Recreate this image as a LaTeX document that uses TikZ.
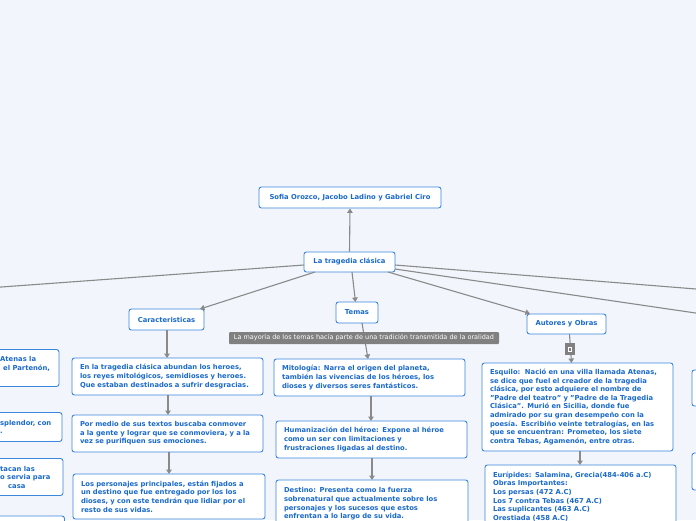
\documentclass[tikz,border=0pt]{standalone}
\usepackage{fontspec}
\setmainfont{DejaVu Sans}
\usetikzlibrary{arrows.meta}
\definecolor{bg}{HTML}{F2F5FC}
\definecolor{boxblue}{HTML}{3A87DD}
\definecolor{txtblue}{HTML}{1A6ACB}
\definecolor{linegray}{HTML}{8A8A8A}
\definecolor{notegray}{HTML}{808080}
\tikzset{
  box/.style={draw=boxblue, fill=white, rounded corners=2.5pt, line width=0.9pt,
    text=txtblue, font=\fontsize{6.8}{8.6}\selectfont\bfseries, align=left,
    inner xsep=8pt, inner ysep=0pt},
  ctr/.style={box, align=center, inner xsep=0pt},
  frag/.style={text=txtblue, font=\fontsize{6.8}{8.6}\selectfont\bfseries, align=left, inner sep=0pt, anchor=west},
  conn/.style={draw=linegray, line width=1.1pt},
  arr/.style={conn, -{Triangle[width=5.5pt,length=4.5pt]}},
  note/.style={fill=notegray, text=white, font=\fontsize{6.5}{7}\selectfont, inner sep=0pt, rounded corners=1pt},
}
\begin{document}
\begin{tikzpicture}[x=1pt,y=-1pt]
\fill[bg] (0,0) rectangle (696,520);
\useasboundingbox (0,0) rectangle (696,520);
\clip (0,0) rectangle (696,520);

% off-canvas ends
\coordinate (leftend) at (-40,290);
\coordinate (rightend1) at (740,292.5);
\coordinate (rightend2) at (740,319.5);

% main nodes
\node[ctr, minimum width=182pt, minimum height=21pt] (sofia) at (350,197.5) {Sofia Orozco, Jacobo Ladino y Gabriel Ciro};
\node[ctr, minimum width=91pt, minimum height=20pt] (trag) at (349.5,262) {La tragedia clásica};
\node[ctr, minimum width=75pt, minimum height=21pt] (car) at (166.5,319.5) {Caracteristicas};
\node[ctr, minimum width=42pt, minimum height=21pt] (temas) at (357,312.5) {Temas};
\node[ctr, minimum width=79pt, minimum height=20pt] (aut) at (566.5,324) {Autores y Obras};

% connectors from root
\draw[arr] (trag.north) -- (sofia.south);
\draw[conn] (304,265) -- (leftend);
\draw[conn] (395,265) -- (rightend1);
\draw[conn] (395,269) -- (rightend2);
\draw[arr] (315,272) -- (200,309);
\draw[arr] (352,272) -- (355.5,302);
\draw[arr] (388,272) -- (530,313.5);

% Caracteristicas column
\node[box, text width=175pt, minimum height=37pt] (c1) at (167.5,376.5) {En la tragedia clásica abundan los heroes,\\los reyes mitológicos, semidioses y heroes.\\Que estaban destinados a sufrir desgracias.};
\node[box, text width=175pt, minimum height=37pt] (c2) at (167.5,433.5) {Por medio de sus textos buscaba conmover\\a la gente y lograr que se conmoviera, y a la\\vez se purifiquen sus emociones.};
\node[box, text width=176pt, minimum height=45pt] (c3) at (169,496.5) {Los personajes principales, están fijados a\\un destino que fue entregado por los los\\dioses, y con este tendrán que lidiar por el\\resto de sus vidas.};
\draw[arr] (167,330) -- (167,358);
\draw[arr] (168,395) -- (168,415);
\draw[arr] (169,452) -- (169,474);

% Temas column
\node[box, text width=175pt, minimum height=37pt] (t1) at (369.5,377.5) {Mitología: Narra el origen del planeta,\\también las vivencias de los héroes, los\\dioses y diversos seres fantásticos.};
\node[box, text width=175pt, minimum height=37pt] (t2) at (371.5,439.5) {Humanización del héroe: Expone al héroe\\como un ser con limitaciones y\\frustraciones ligadas al destino.};
\node[box, text width=176pt, minimum height=48pt] (t3) at (372,504) {Destino: Presenta como la fuerza\\sobrenatural que actualmente sobre los\\personajes y los sucesos que estos\\enfrentan a lo largo de su vida.};
\draw[arr] (362,323) -- (368,359);
\draw[arr] (371,396) -- (371,421);
\draw[arr] (372,458) -- (372,480);

% Autores column
\node[box, text width=175pt, minimum height=88pt] (a1) at (577.5,407) {Esquilo:\ \ Nació en una villa llamada Atenas,\\se dice que fuel el creador de la tragedia\\clásica, por esto adquiere el nombre de\\"Padre del teatro" y "Padre de la Tragedia\\Clásica". Murió en Sicilia, donde fue\\admirado por su gran desempeño con la\\poesía. Escribiño veinte tetralogías, en las\\que se encuentran: Prometeo, los siete\\contra Tebas, Agamenón, entre otras.};
\node[box, text width=175pt, minimum height=63pt] (a2) at (580.5,496.5) {Eurípides: Salamina, Grecia(484-406 a.C)\\Obras Importantes:\\Los persas (472 A.C)\\Los 7 contra Tebas (467 A.C)\\Las suplicantes (463 A.C)\\Orestiada (458 A.C)};
\draw[arr] (569.5,334) -- (571.5,363);
\draw[arr] (580,451) -- (580,465);
\node[fill=notegray, minimum width=10pt, minimum height=12pt, inner sep=0pt] (icon) at (570,349) {};
\draw[white, line width=0.5pt] (568.7,347) rectangle (571.3,351);

% note label
\node[note, minimum width=270pt, minimum height=12pt] (lbl) at (364,338) {La mayoría de los temas hacía parte de una tradición transmitida de la oralidad};

% partial boxes at the left edge
\node[box, minimum width=179pt, minimum height=37pt] (l1) at (-30.5,368) {};
\node[frag] (l1t) at (0,363.8) {Atenas la\\\hspace*{3pt}el Partenón,};
\node[box, minimum width=179pt, minimum height=29pt] (l2) at (-27.5,427) {};
\node[frag] (l2t) at (0,427) {splendor, con\\.};
\node[box, minimum width=179pt, minimum height=37pt] (l3) at (-26.5,477) {};
\node[frag] (l3t) at (0,477.2) {tacan las\\o servia para\\\hspace*{8pt}casa};
\node[box, minimum width=179pt, minimum height=37pt] (l4) at (-25,534.5) {};

% partial boxes at the right edge
\node[box, minimum width=150pt, minimum height=36pt] (r1) at (767,388) {};
\node[box, minimum width=150pt, minimum height=37pt] (r2) at (767,471.5) {};
\end{tikzpicture}
\end{document}
